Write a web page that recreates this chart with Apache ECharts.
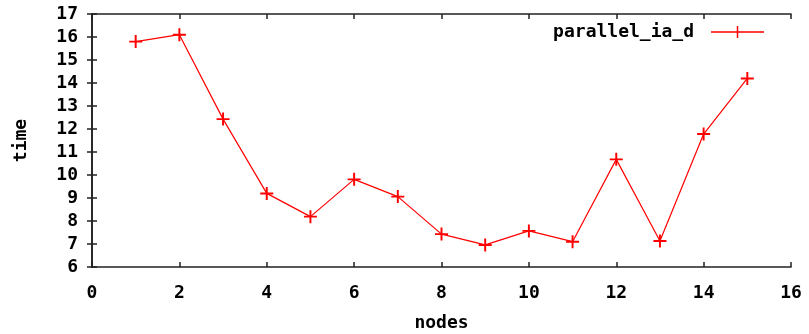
<!DOCTYPE html>
<html>
<head>
<meta charset="utf-8">
<script src="https://cdn.jsdelivr.net/npm/echarts@6/dist/echarts.min.js"></script>
<style>
html,body{margin:0;padding:0;background:#fff;}
#main{width:809px;height:334px;}
</style>
</head>
<body>
<div id="main"></div>
<script>
var nodes = [1, 2, 3, 4, 5, 6, 7, 8, 9, 10, 11, 12, 13, 14, 15];
var times = [15.8, 16.1, 12.43, 9.2, 8.19, 9.81, 9.06, 7.43, 6.96, 7.57, 7.1, 10.68, 7.13, 11.78, 14.2];
var seriesName = 'parallel_ia_d';

var font = 'DejaVu Sans Mono';
var plusPath = 'path://M4.25,0h1.5v4.25h4.25v1.5h-4.25v4.25h-1.5v-4.25h-4.25v-1.5h4.25z';
var legendPath = 'path://M0,5.25h25.75v-5.25h1.5v5.25h25.75v1.5h-25.75v5.25h-1.5v-5.25h-25.75z';

var chart = echarts.init(document.getElementById('main'));

var data = [];
for (var i = 0; i < nodes.length; i++) {
	data.push([nodes[i], times[i]]);
}

var labelStyle = {fontFamily: font, fontWeight: 'bold', fontSize: 18, color: '#000'};
var axisLine = {show: true, lineStyle: {color: '#222', width: 1.6}};
var tick = {show: true, inside: true, length: 5, lineStyle: {color: '#222', width: 1.5}};

var option = {
	backgroundColor: '#fff',
	animation: false,
	grid: {left: 92, right: 18, top: 14, bottom: 67, containLabel: false, outerBoundsMode: 'none'},
	legend: {
		right: 40,
		top: 18,
		align: 'right',
		itemWidth: 53,
		itemHeight: 12,
		itemGap: 0,
		textStyle: {fontFamily: font, fontWeight: 'bold', fontSize: 18, color: '#000', padding: [0, 12, 0, 0]},
		data: [{name: seriesName, icon: legendPath, itemStyle: {color: '#ff0000', borderWidth: 0}}]
	},
	xAxis: [{
		type: 'value',
		min: 0,
		max: 16,
		interval: 2,
		name: 'nodes',
		nameLocation: 'middle',
		nameGap: 47,
		nameTextStyle: labelStyle,
		axisLine: axisLine,
		axisTick: tick,
		axisLabel: {margin: 17, fontFamily: font, fontWeight: 'bold', fontSize: 18, color: '#000'},
		splitLine: {show: false}
	}, {
		type: 'value',
		position: 'top',
		min: 0,
		max: 16,
		interval: 2,
		axisLine: axisLine,
		axisTick: tick,
		axisLabel: {show: false},
		splitLine: {show: false}
	}],
	yAxis: [{
		type: 'value',
		min: 6,
		max: 17,
		interval: 1,
		name: 'time',
		nameLocation: 'middle',
		nameGap: 62,
		nameRotate: 90,
		nameTextStyle: labelStyle,
		axisLine: axisLine,
		axisTick: tick,
		axisLabel: {margin: 14, fontFamily: font, fontWeight: 'bold', fontSize: 18, color: '#000'},
		splitLine: {show: false}
	}, {
		type: 'value',
		position: 'right',
		min: 6,
		max: 17,
		interval: 1,
		axisLine: axisLine,
		axisTick: tick,
		axisLabel: {show: false},
		splitLine: {show: false}
	}],
	series: [{
		name: seriesName,
		type: 'line',
		data: data,
		symbol: plusPath,
		symbolSize: 13,
		showAllSymbol: true,
		lineStyle: {color: '#ff0000', width: 1.2},
		itemStyle: {color: '#ff0000', borderWidth: 0}
	}]
};

chart.setOption(option);
</script>
</body>
</html>
